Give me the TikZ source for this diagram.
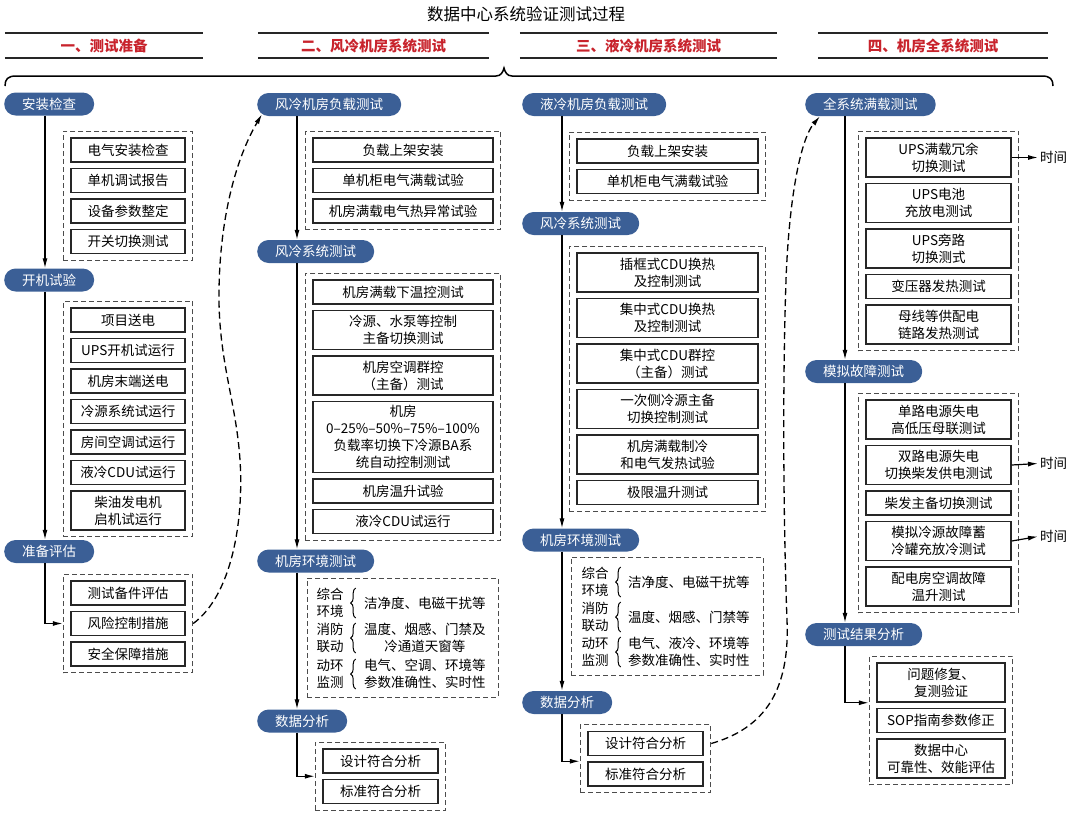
\documentclass[tikz,border=0pt]{standalone}
\usepackage{fontspec}
\setmainfont{Noto Sans CJK SC}
\usepackage{xcolor}
\usepackage{tikz}
\usetikzlibrary{arrows.meta,positioning,fit,decorations.pathreplacing}
\definecolor{stageblue}{RGB}{59,95,150}
\definecolor{headred}{RGB}{200,35,44}
\newcommand{\boxfont}{\fontsize{13.5}{17}\selectfont}
\tikzset{
  stage/.style={anchor=west,fill=stageblue,text=white,rounded corners=11.5pt,
    minimum height=23pt,inner xsep=18pt,inner ysep=0pt,font=\boxfont},
  item/.style={draw=black!85,line width=1.5pt,minimum width=#1,minimum height=24pt,
    inner sep=1pt,align=center,font=\boxfont},
  item/.default=114pt,
  tall/.style={minimum height=39pt},
  grpbox/.style={draw=black!70,line width=1pt,dash pattern=on 5pt off 3pt,
    inner xsep=7pt,inner ysep=6pt},
  flow/.style={line width=1.2pt,-{Latex[length=10pt,width=5pt]}},
  jump/.style={line width=1.3pt,dash pattern=on 7pt off 4pt,-{Latex[length=10pt,width=5pt]}},
  header/.style={minimum width=#1,minimum height=25pt,text=headred,
    font=\fontsize{14.5}{17}\selectfont\bfseries},
  rule/.style={line width=1.5pt,draw=black!85},
  envlabel/.style={align=center,inner sep=0pt,font=\boxfont},
  envtext/.style={anchor=west,align=center,inner sep=0pt,font=\boxfont},
  curly/.style={line width=1pt,decorate,decoration={brace,amplitude=5pt}},
  timeof/.style={anchor=west,inner sep=2pt,font=\boxfont},
}
\begin{document}
\begin{tikzpicture}[x=1pt,y=-1pt]
  \useasboundingbox (0,0) rectangle (1080,830);

  % Title and stage headers
  \node[font=\fontsize{16.5}{20}\selectfont] (title) at (526,14) {数据中心系统验证测试过程};
  \node[header=198pt] (h1) at (104,45.5) {一、测试准备};
  \node[header=231pt] (h2) at (373.5,45.5) {二、风冷机房系统测试};
  \node[header=257pt] (h3) at (648.5,45.5) {三、液冷机房系统测试};
  \node[header=230pt] (h4) at (933,45.5) {四、机房全系统测试};
  \foreach \h in {h1,h2,h3,h4}
    \draw[rule] (\h.north west) -- (\h.north east) (\h.south west) -- (\h.south east);

  % Brace under the headers
  \draw[line width=1.5pt] (5,86) .. controls (5,79) and (8,76) .. (16,76) -- (496,76)
    .. controls (501,76) and (503,72) .. (504,68) .. controls (505,72) and (507,76) .. (512,76)
    -- (1042,76) .. controls (1050,76) and (1053,79) .. (1053,86);

  % Column 1
  \coordinate (x1) at (45,0);
  \node[stage] (s11) at (4,104) {安装检查};
  \node[item] (a1) at (128,150) {电气安装检查};
  \node[item,below=5pt of a1] (a2) {单机调试报告};
  \node[item,below=5pt of a2] (a3) {设备参数整定};
  \node[item,below=5pt of a3] (a4) {开关切换测试};
  \node[grpbox,fit=(a1)(a4)] (g11) {};

  \node[stage] (s12) at (4,280) {开机试验};
  \node[item] (b1) at (128,320) {项目送电};
  \node[item,below=5pt of b1] (b2) {UPS开机试运行};
  \node[item,below=5pt of b2] (b3) {机房末端送电};
  \node[item,below=5pt of b3] (b4) {冷源系统试运行};
  \node[item,below=5pt of b4] (b5) {房间空调试运行};
  \node[item,below=5pt of b5] (b6) {液冷CDU试运行};
  \node[item,tall,below=5pt of b6] (b7) {柴油发电机\\启机试运行};
  \node[grpbox,fit=(b1)(b7)] (g12) {};

  \node[stage] (s13) at (4,551.5) {准备评估};
  \node[item] (c1) at (128,593) {测试备件评估};
  \node[item,below=5pt of c1] (c2) {风险控制措施};
  \node[item,below=5pt of c2] (c3) {安全保障措施};
  \node[grpbox,fit=(c1)(c3)] (g13) {};

  \draw[flow] (x1 |- s11.south) -- (x1 |- s12.north);
  \draw[flow] (x1 |- s12.south) -- (x1 |- s13.north);
  \draw[flow] (x1 |- s13.south) |- (g13.west |- c2);

  % Column 2
  \coordinate (x2) at (297,0);
  \node[stage] (s21) at (257,104.5) {风冷机房负载测试};
  \node[item=180pt] (d1) at (403,150) {负载上架安装};
  \node[item=180pt,below=5pt of d1] (d2) {单机柜电气满载试验};
  \node[item=180pt,below=5pt of d2] (d3) {机房满载电气热异常试验};
  \node[grpbox,fit=(d1)(d3)] (g21) {};

  \node[stage] (s22) at (257,251.5) {风冷系统测试};
  \node[item=180pt] (e1) at (403,292) {机房满载下温控测试};
  \node[item=180pt,tall,below=5pt of e1] (e2) {冷源、水泵等控制\\主备切换测试};
  \node[item=180pt,tall,below=5pt of e2] (e3) {机房空调群控\\（主备）测试};
  \node[item=180pt,minimum height=71pt,below=5pt of e3] (e4) {机房\\0–25\%–50\%–75\%–100\%\\负载率切换下冷源BA系\\统自动控制测试};
  \node[item=180pt,below=5pt of e4] (e5) {机房温升试验};
  \node[item=180pt,below=5pt of e5] (e6) {液冷CDU试运行};
  \node[grpbox,fit=(e1)(e6)] (g22) {};

  \node[stage] (s23) at (257,561) {机房环境测试};
  \node[grpbox,minimum width=191pt,minimum height=119pt] (g23) at (402.5,637.5) {};
  \node[envlabel] (l21) at (330,603) {综合\\环境};
  \node[envtext] (r21) at (364,603) {洁净度、电磁干扰等};
  \node[envlabel] (l22) at (330,638) {消防\\联动};
  \node[envtext] (r22) at (364,638) {温度、烟感、门禁及\\冷通道天窗等};
  \node[envlabel] (l23) at (330,674) {动环\\监测};
  \node[envtext] (r23) at (364,674) {电气、空调、环境等\\参数准确性、实时性};

  \node[stage] (s24) at (257,721) {数据分析};
  \node[item=115pt] (f1) at (380.5,761) {设计符合分析};
  \node[item=115pt,below=5pt of f1] (f2) {标准符合分析};
  \node[grpbox,fit=(f1)(f2)] (g24) {};

  \draw[flow] (x2 |- s21.south) -- (x2 |- s22.north);
  \draw[flow] (x2 |- s22.south) -- (x2 |- s23.north);
  \draw[flow] (x2 |- s23.south) -- (x2 |- s24.north);
  \draw[flow] (x2 |- s24.south) |- (g24.west);

  % Column 3
  \coordinate (x3) at (562,0);
  \node[stage] (s31) at (522,104.5) {液冷机房负载测试};
  \node[item=181pt] (i1) at (667.5,151) {负载上架安装};
  \node[item=181pt,below=5pt of i1] (i2) {单机柜电气满载试验};
  \node[grpbox,fit=(i1)(i2)] (g31) {};

  \node[stage] (s32) at (522,223.5) {风冷系统测试};
  \node[item=181pt,tall] (j1) at (667.5,272.5) {插框式CDU换热\\及控制测试};
  \node[item=181pt,tall,below=5pt of j1] (j2) {集中式CDU换热\\及控制测试};
  \node[item=181pt,tall,below=5pt of j2] (j3) {集中式CDU群控\\（主备）测试};
  \node[item=181pt,tall,below=5pt of j3] (j4) {一次侧冷源主备\\切换控制测试};
  \node[item=181pt,tall,below=5pt of j4] (j5) {机房满载制冷\\和电气发热试验};
  \node[item=181pt,below=5pt of j5] (j6) {极限温升测试};
  \node[grpbox,fit=(j1)(j6)] (g32) {};

  \node[stage] (s33) at (522,540) {机房环境测试};
  \node[grpbox,minimum width=192pt,minimum height=118pt] (g33) at (667,616) {};
  \node[envlabel] (l31) at (595,582) {综合\\环境};
  \node[envtext] (r31) at (628,582) {洁净度、电磁干扰等};
  \node[envlabel] (l32) at (595,617) {消防\\联动};
  \node[envtext] (r32) at (628,617) {温度、烟感、门禁等};
  \node[envlabel] (l33) at (595,652) {动环\\监测};
  \node[envtext] (r33) at (628,652) {电气、液冷、环境等\\参数准确性、实时性};

  \node[stage] (s34) at (522,702.5) {数据分析};
  \node[item=115pt] (k1) at (645.5,743.5) {设计符合分析};
  \node[item=115pt,below=5pt of k1] (k2) {标准符合分析};
  \node[grpbox,fit=(k1)(k2)] (g34) {};

  \draw[flow] (x3 |- s31.south) -- (x3 |- s32.north);
  \draw[flow] (x3 |- s32.south) -- (x3 |- s33.north);
  \draw[flow] (x3 |- s33.south) -- (x3 |- s34.north);
  \draw[flow] (x3 |- s34.south) |- (g34.west |- k2.north);

  % Braces of the environment boxes
  \foreach \l in {l21,l22,l23,l31,l32,l33}
    \draw[curly] ([xshift=12pt,yshift=-15pt]\l.east) -- ([xshift=12pt,yshift=15pt]\l.east);

  % Column 4
  \coordinate (x4) at (845,0);
  \node[stage] (s41) at (805,104.5) {全系统满载测试};
  \node[item=145pt,tall] (u1) at (938.5,157.5) {UPS满载冗余\\切换测试};
  \node[item=145pt,tall,below=5pt of u1] (u2) {UPS电池\\充放电测试};
  \node[item=145pt,tall,below=5pt of u2] (u3) {UPS旁路\\切换测式};
  \node[item=145pt,below=5pt of u3] (u4) {变压器发热测试};
  \node[item=145pt,tall,below=5pt of u4] (u5) {母线等供配电\\链路发热测试};
  \node[grpbox,fit=(u1)(u5)] (g41) {};

  \node[stage] (s42) at (805,371.5) {模拟故障测试};
  \node[item=145pt,tall] (v1) at (938.5,419.5) {单路电源失电\\高低压母联测试};
  \node[item=145pt,tall,below=5pt of v1] (v2) {双路电源失电\\切换柴发供电测试};
  \node[item=145pt,below=5pt of v2] (v3) {柴发主备切换测试};
  \node[item=145pt,tall,below=5pt of v3] (v4) {模拟冷源故障蓄\\冷罐充放冷测试};
  \node[item=145pt,tall,below=5pt of v4] (v5) {配电房空调故障\\温升测试};
  \node[grpbox,fit=(v1)(v5)] (g42) {};

  \node[stage] (s43) at (805,634.5) {测试结果分析};
  \node[item=128pt,tall] (w1) at (941,682.5) {问题修复、\\复测验证};
  \node[item=128pt,below=5pt of w1] (w2) {SOP指南参数修正};
  \node[item=128pt,tall,below=5pt of w2] (w3) {数据中心\\可靠性、效能评估};
  \node[grpbox,fit=(w1)(w3)] (g43) {};

  \draw[flow] (x4 |- s41.south) -- (x4 |- s42.north);
  \draw[flow] (x4 |- s42.south) -- (x4 |- s43.north);
  \draw[flow] (x4 |- s43.south) |- (g43.west |- w1.south);

  % Time outputs
  \node[timeof] (t1) at (1038,157.5) {时间};
  \node[timeof] (t2) at (1038,463.5) {时间};
  \node[timeof] (t3) at (1038,536.5) {时间};
  \draw[flow] (u1.east) -- (t1.west);
  \draw[flow] (v2.east) -- (t2.west);
  \draw[flow] (v4.east) -- (t3.west);

  % Dashed jumps between stages
  \draw[jump] (g13.east |- c2) .. controls (232,595) and (244,520) .. (240,460)
    .. controls (236,400) and (218,360) .. (219,290)
    .. controls (220,220) and (235,160) .. ([xshift=5pt,yshift=2pt]s21.south west);
  \draw[jump] (g34.east |- k1) .. controls (765,728) and (790,690) .. (787,620)
    .. controls (784,540) and (782,400) .. (786,280)
    .. controls (789,200) and (800,140) .. ([xshift=15pt]s41.south west);
\end{tikzpicture}
\end{document}
